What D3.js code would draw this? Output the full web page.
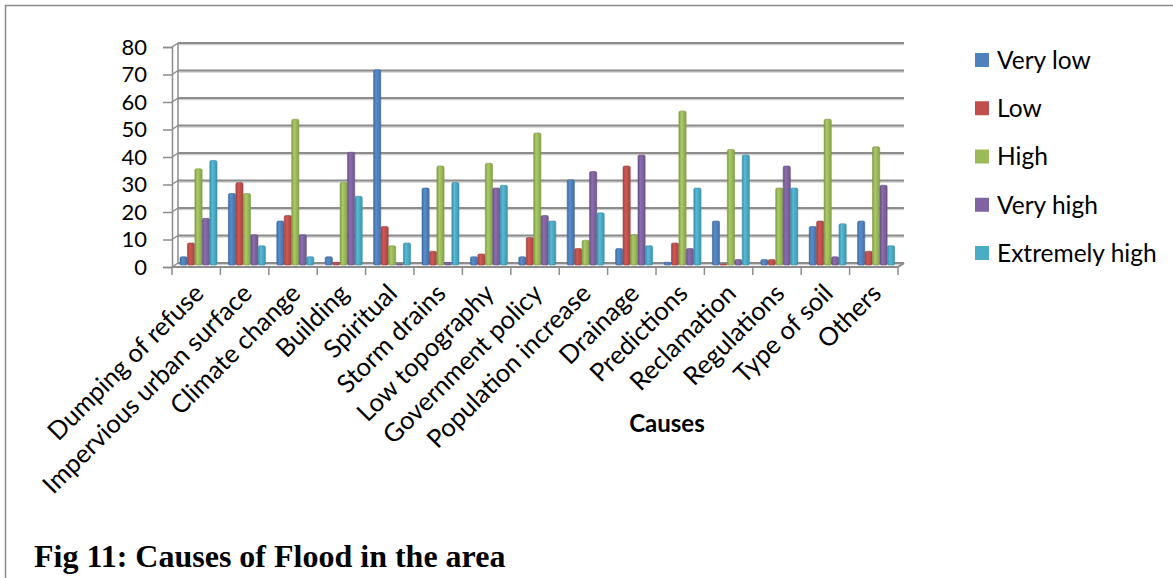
<!DOCTYPE html>
<html><head><meta charset="utf-8">
<script src="https://cdn.jsdelivr.net/npm/d3@7"></script>
<style>html,body{margin:0;padding:0;background:#fff;}svg{display:block;}</style>
</head><body>
<svg id="chart" width="1173" height="578"></svg>
<script>
const categories = ["Dumping of refuse","Impervious urban surface","Climate change","Building","Spiritual","Storm drains","Low topography","Government policy","Population increase","Drainage","Predictions","Reclamation","Regulations","Type of soil","Others"];
const seriesNames = ["Very low","Low","High","Very high","Extremely high"];
const veryLow      = [3, 26, 16, 3, 71, 28, 3, 3, 31, 6, 1, 16, 2, 14, 16];
const low          = [8, 30, 18, 1, 14, 5, 4, 10, 6, 36, 8, 0, 2, 16, 5];
const high         = [35, 26, 53, 30, 7, 36, 37, 48, 9, 11, 56, 42, 28, 53, 43];
const veryHigh     = [17, 11, 11, 41, 0, 1, 28, 18, 34, 40, 6, 2, 36, 3, 29];
const extremelyHigh= [38, 7, 3, 25, 8, 30, 29, 16, 19, 7, 28, 40, 28, 15, 7];
const yTicks = [0,10,20,30,40,50,60,70,80];
const colors = ["#4F81BD","#C0504D","#9BBB59","#8064A2","#4BACC6"];

const seriesValues = [veryLow, low, high, veryHigh, extremelyHigh];
const svg = d3.select("#chart");
const font = "Lato, 'Open Sans', sans-serif";

// outer frame
svg.append("path").attr("d","M5.5,578 L5.5,5.5 L1173,5.5").attr("fill","none").attr("stroke","#8a8a8a").attr("stroke-width",1.5);

// geometry
const x0 = 172, x1 = 898, yFront0 = 267, depthX = 6, depthY = -4;
const x = d3.scaleBand().domain(categories).range([x0, x1]).paddingInner(0).paddingOuter(0);
const yFront = d3.scaleLinear().domain([0,80]).range([yFront0, yFront0-220]);
const yBack = d3.scaleLinear().domain([0,80]).range([yFront0+depthY, yFront0+depthY-220]);
const yBar = d3.scaleLinear().domain([0,80]).range([yFront0+depthY/2, yFront0+depthY/2-220]);
const inner = d3.scaleBand().domain(seriesNames).range([0, 37]).paddingInner(0.04);

// gradients
const defs = svg.append("defs");
colors.forEach((c,i)=>{
  const g = defs.append("linearGradient").attr("id","g"+i).attr("x1","0").attr("x2","1").attr("y1","0").attr("y2","0");
  const base = d3.color(c);
  g.append("stop").attr("offset","0%").attr("stop-color", base.darker(0.5));
  g.append("stop").attr("offset","35%").attr("stop-color", base.brighter(0.25));
  g.append("stop").attr("offset","100%").attr("stop-color", base.darker(0.4));
});

// back wall gridlines (with light shadow)
yTicks.forEach(t=>{
  svg.append("line").attr("x1", x0+depthX).attr("x2", x1+depthX).attr("y1", yBack(t)+1.5).attr("y2", yBack(t)+1.5)
    .attr("stroke","#d0d0d0").attr("stroke-width",1.5);
  svg.append("line").attr("x1", x0+depthX).attr("x2", x1+depthX).attr("y1", yBack(t)).attr("y2", yBack(t))
    .attr("stroke","#8c8c8c").attr("stroke-width",2);
  svg.append("line").attr("x1", x0).attr("x2", x0+depthX).attr("y1", yFront(t)).attr("y2", yBack(t))
    .attr("stroke","#8c8c8c").attr("stroke-width",1.5);
});
svg.append("line").attr("x1", x0+depthX).attr("x2", x0+depthX).attr("y1", yBack(0)).attr("y2", yBack(80)).attr("stroke","#8c8c8c").attr("stroke-width",1.5);

// floor
svg.append("path").attr("d", `M${x0},${yFront0} L${x1},${yFront0} L${x1+depthX},${yFront0+depthY}`)
  .attr("fill","none").attr("stroke","#8c8c8c").attr("stroke-width",2);

// y axis (front)
const yAxis = d3.axisLeft(yFront).tickValues(yTicks).tickSize(9).tickPadding(16).tickFormat(d3.format("d"));
const ga = svg.append("g").attr("transform",`translate(${x0},0)`).call(yAxis);
ga.select(".domain").attr("stroke","#8c8c8c").attr("stroke-width",1.5);
ga.selectAll(".tick line").attr("stroke","#8c8c8c").attr("stroke-width",1.5);
ga.selectAll("text").attr("font-family",font).attr("font-size",22).attr("fill","#000");

// x axis ticks
const xAxis = d3.axisBottom(x).tickSize(0).tickFormat("");
const gx = svg.append("g").attr("transform",`translate(0,${yFront0})`).call(xAxis);
gx.select(".domain").remove();
const tickPos = d3.range(categories.length+1).map(i=>x0 + i*x.step());
gx.selectAll(".sep").data(tickPos).enter().append("line")
  .attr("x1",d=>d).attr("x2",d=>d).attr("y1",0).attr("y2",8).attr("stroke","#8c8c8c").attr("stroke-width",1.5);

// bars
const groups = svg.append("g").selectAll("g").data(categories).enter().append("g")
  .attr("transform", d=>`translate(${x(d)+8},0)`);
seriesNames.forEach((s,si)=>{
  groups.append("rect")
    .attr("x", inner(s))
    .attr("width", inner.bandwidth())
    .attr("y", (d,i)=> yBar(seriesValues[si][i]) - (seriesValues[si][i]===0?1:0))
    .attr("height", (d,i)=> Math.max(1, yBar(0)-yBar(seriesValues[si][i])))
    .attr("fill", `url(#g${si})`)
    .attr("stroke", d3.color(colors[si]).darker(0.6))
    .attr("stroke-width",0.6)
    .attr("rx",1.5);
});

// category labels
svg.append("g").selectAll("text").data(categories).enter().append("text")
  .attr("transform", d=>`translate(${x(d)+x.bandwidth()/2+9},${yFront0+28}) rotate(-45)`)
  .attr("text-anchor","end")
  .attr("font-family",font).attr("font-size",25.5).attr("fill","#000")
  .text(d=>d);

// axis title
svg.append("text").attr("x",667).attr("y",432).attr("text-anchor","middle")
  .attr("font-family",font).attr("font-weight","bold").attr("font-size",24).text("Causes");

// legend
const legendY = d3.scalePoint().domain(seriesNames).range([60, 253]);
const lg = svg.append("g").selectAll("g").data(seriesNames).enter().append("g")
  .attr("transform", d=>`translate(975,${legendY(d)})`);
lg.append("rect").attr("x",0).attr("y",-7).attr("width",14).attr("height",14).attr("fill",(d,i)=>colors[i]);
lg.append("text").attr("x",22).attr("y",0).attr("dy","0.36em")
  .attr("font-family",font).attr("font-size",24.5).text(d=>d);

// figure caption
svg.append("text").attr("x",34).attr("y",567)
  .attr("font-family","'Liberation Serif', 'Times New Roman', serif").attr("font-weight","bold").attr("font-size",32)
  .text("Fig 11: Causes of Flood in the area");
</script>
</body></html>
